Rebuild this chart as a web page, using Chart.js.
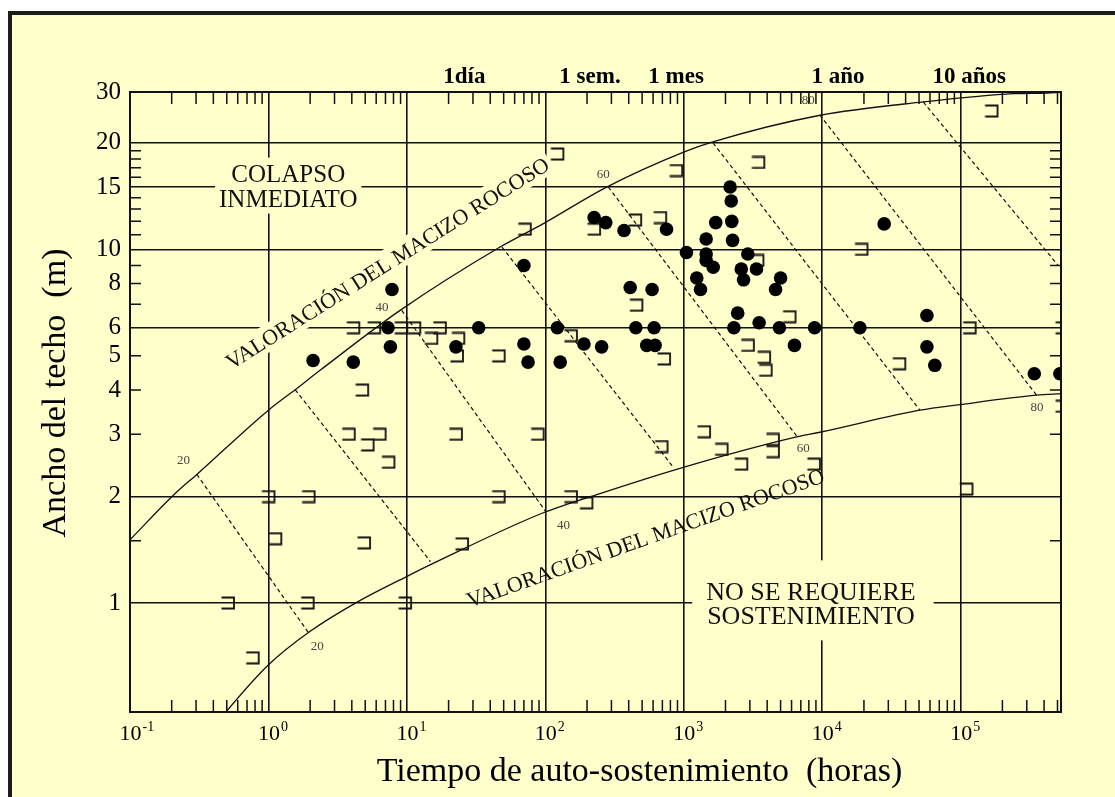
<!DOCTYPE html>
<html><head><meta charset="utf-8">
<script src="https://cdn.jsdelivr.net/npm/chart.js@4.4.1/dist/chart.umd.min.js"></script>
<style>html,body{margin:0;padding:0;background:#fff;}canvas{display:block;}</style>
</head><body>
<canvas id="c" width="1115" height="797"></canvas>
<script>
// ---------- DATA ----------
// Casos con colapso / sin colapso (tiempo en horas, ancho en m)
const circleX = [2.1, 4.1, 7.3, 7.6, 7.8, 22.6, 33, 70, 70, 75, 122, 128, 190, 225, 255, 273, 370, 410, 450, 540, 590, 610, 620, 750, 1045, 1240, 1320, 1450, 1450, 1450, 1630, 1700, 2160, 2200, 2220, 2250, 2300, 2450, 2600, 2700, 2900, 3350, 3500, 4600, 4900, 5000, 6300, 8800, 18700, 28000, 57000, 57000, 65000, 340000, 520000];
const circleY = [4.85, 4.8, 6.0, 5.3, 7.7, 5.3, 6.0, 9.0, 5.4, 4.8, 6.0, 4.8, 5.4, 12.3, 5.3, 11.9, 11.3, 7.8, 6.0, 5.35, 7.7, 6.0, 5.35, 11.4, 9.8, 8.3, 7.7, 10.7, 9.7, 9.3, 8.9, 11.9, 15.0, 13.7, 12.0, 10.6, 6.0, 6.6, 8.8, 8.2, 9.7, 8.8, 6.2, 7.7, 6.0, 8.3, 5.35, 6.0, 6.0, 11.8, 6.5, 5.3, 4.7, 4.45, 4.45];

const bracketX = [0.51, 0.77, 1.0, 1.12, 1.92, 1.95, 3.8, 4.1, 4.75, 4.9, 5.2, 5.8, 6.35, 7.35, 9.1, 9.7, 11.3, 15, 17.3, 22.6, 23.5, 23, 25, 46, 46, 71, 88, 122, 153, 153, 198, 225, 445, 454, 675, 690, 720, 880, 1400, 1875, 2600, 2900, 3400, 3450, 3800, 3900, 4400, 4400, 5800, 8700, 19200, 36000, 110000, 116000, 167000, 540000, 540000];
const bracketY = [1.0, 0.70, 2.0, 1.52, 1.0, 2.0, 3.0, 6.0, 4.0, 1.48, 2.8, 6.0, 3.0, 2.5, 6.0, 1.0, 6.0, 5.6, 6.0, 3.0, 5.6, 5.0, 1.47, 5.0, 2.0, 11.4, 3.0, 18.6, 5.7, 2.0, 1.92, 11.4, 12.1, 6.95, 12.3, 2.77, 4.9, 16.7, 3.05, 2.72, 2.47, 5.35, 9.3, 17.6, 4.95, 4.55, 2.9, 2.68, 6.45, 2.47, 10.0, 4.75, 2.1, 6.0, 24.6, 6.0, 3.6];

// Curvas "Valoración del macizo rocoso"
const upperCurveX = [0.1, 0.212, 0.304, 1.0, 1.56, 2.36, 8.93, 47.1, 96.7, 277, 997, 1598, 9460, 53600, 239000, 417000, 530000];
const upperCurveY = [1.51, 2.04, 2.31, 3.51, 4.01, 4.55, 6.72, 10.15, 11.82, 15.0, 18.84, 20.1, 23.9, 26.1, 27.55, 27.67, 27.8];
const lowerCurveX = [0.49, 0.517, 0.993, 1.967, 4.37, 10.03, 15.2, 96.7, 248, 992, 6530, 9610, 50700, 98600, 353000, 536000];
const lowerCurveY = [0.49, 0.503, 0.667, 0.828, 1.006, 1.19, 1.29, 1.80, 2.04, 2.42, 2.95, 3.04, 3.51, 3.64, 3.87, 3.91];

// Líneas de igual RMR (20 ... 90)
const contourRMR    = [20, 30, 40, 50, 60, 70, 80, 90];
const contourStartX = [0.304, 1.56, 9.18, 48.6, 285, 1625, 9600, 53600];
const contourStartY = [2.31, 4.01, 6.72, 10.15, 15.0, 20.0, 24.0, 26.1];
const contourEndX   = [1.93, 14.8, 101, 840, 6600, 50700, 353000, 506000];
const contourEndY   = [0.828, 1.31, 1.81, 2.42, 2.95, 3.51, 3.87, 9.0];

const contourLabelText = ['20', '20', '40', '40', '60', '60', '80', '80'];
const contourLabelX = [0.243, 2.25, 6.62, 135, 262, 7290, 7930, 356000];
const contourLabelY = [2.52, 0.754, 6.86, 1.66, 16.3, 2.73, 26.3, 3.58];

// Ejes
const xTickExponents = [-1, 0, 1, 2, 3, 4, 5];
const yTickValues = [1, 2, 3, 4, 5, 6, 8, 10, 15, 20, 30];
const yTickLabels = ['1', '2', '3', '4', '5', '6', '8', '10', '15', '20', '30'];
const yGridValues = [1, 2, 6, 10, 15, 20];
const yMinorTicks = [1.5, 3, 4, 5, 7, 8, 9, 11, 12, 13, 14, 16, 17, 18, 19];

const timeLabels = ['1día', '1 sem.', '1 mes', '1 año', '10 años'];
const timeLabelX = [26, 210, 880, 13000, 115000];

const xTitle = 'Tiempo de auto-sostenimiento  (horas)';
const yTitle = 'Ancho del techo  (m)';
const regionTop = ['COLAPSO', 'INMEDIATO'];
const regionBottom = ['NO SE REQUIERE', 'SOSTENIMIENTO'];
const curveText = 'VALORACIÓN DEL MACIZO ROCOSO';

// ---------- STYLE ----------
const SERIF = '"Liberation Serif", "Times New Roman", serif';
const BG = '#FFFFCC';
const INK = '#111111';
const CLEAR = 'rgba(0,0,0,0)';

const bracketImg = (() => {
  const c = document.createElement('canvas'); c.width = 16; c.height = 14;
  const g = c.getContext('2d'); g.strokeStyle = INK; g.lineWidth = 1.8;
  g.beginPath(); g.moveTo(1.5, 1.5); g.lineTo(14, 1.5); g.lineTo(14, 12.5); g.lineTo(1.5, 12.5); g.stroke();
  return c;
})();

const pts = (xs, ys) => xs.map((x, i) => ({x, y: ys[i]}));

const datasets = [
  {data: pts(circleX, circleY), pointStyle: 'circle', pointRadius: 6.8, pointBackgroundColor: '#000', pointBorderWidth: 0, showLine: false, clip: 0},
  {data: pts(bracketX, bracketY), pointStyle: bracketImg, pointRadius: 7, pointBorderWidth: 0, showLine: false, clip: 0},
  {data: pts(upperCurveX, upperCurveY), showLine: true, borderColor: INK, borderWidth: 1.3, pointRadius: 0, cubicInterpolationMode: 'monotone', clip: 0},
  {data: pts(lowerCurveX, lowerCurveY), showLine: true, borderColor: INK, borderWidth: 1.3, pointRadius: 0, cubicInterpolationMode: 'monotone', clip: 0}
];
contourRMR.forEach((r, i) => {
  datasets.push({data: [{x: contourStartX[i], y: contourStartY[i]}, {x: contourEndX[i], y: contourEndY[i]}],
    showLine: true, borderColor: INK, borderWidth: 1.2, borderDash: [4, 3], pointRadius: 0, clip: 0});
});

function textBlock(ctx, lines, cx, cy, font, lineH) {
  ctx.font = font; ctx.fillStyle = INK; ctx.textAlign = 'center'; ctx.textBaseline = 'middle';
  lines.forEach((t, i) => ctx.fillText(t, cx, cy + (i - (lines.length - 1) / 2) * lineH));
}

const artPlugin = {
  id: 'art',
  beforeDraw(chart) {
    const ctx = chart.ctx;
    ctx.save();
    ctx.fillStyle = '#fff'; ctx.fillRect(0, 0, chart.width, chart.height);
    ctx.fillStyle = BG; ctx.fillRect(10, 13, chart.width, chart.height);
    ctx.fillStyle = '#1c1c1c';
    ctx.fillRect(8, 11, chart.width, 4);
    ctx.fillRect(8, 11, 4, chart.height);
    ctx.restore();
  },
  beforeDatasetsDraw(chart) {
    const ctx = chart.ctx, xs = chart.scales.x, ys = chart.scales.y;
    ctx.save();
    // COLAPSO INMEDIATO
    let cx = xs.getPixelForValue(1.39), cy = ys.getPixelForValue(14.95);
    ctx.font = '25px ' + SERIF;
    let w = Math.max(...regionTop.map(t => ctx.measureText(t).width));
    ctx.fillStyle = BG; ctx.fillRect(cx - w / 2 - 4, cy - 30, w + 8, 56);
    textBlock(ctx, regionTop, cx, cy, '25px ' + SERIF, 25);
    // NO SE REQUIERE SOSTENIMIENTO
    cx = xs.getPixelForValue(8280); cy = ys.getPixelForValue(0.985);
    ctx.font = '26px ' + SERIF;
    w = Math.max(...regionBottom.map(t => ctx.measureText(t).width));
    ctx.fillStyle = BG; ctx.fillRect(cx - w / 2 - 14, cy - 45, w + 32, 80);
    textBlock(ctx, regionBottom, cx, cy, '26px ' + SERIF, 24);
    // rotated curve labels
    const rot = (dx, dy, ang, bg) => {
      const px = xs.getPixelForValue(dx), py = ys.getPixelForValue(dy);
      ctx.save(); ctx.translate(px, py); ctx.rotate(ang * Math.PI / 180);
      ctx.font = '22px ' + SERIF;
      const tw = ctx.measureText(curveText).width;
      if (bg) { ctx.fillStyle = BG; ctx.fillRect(-tw / 2 - 3, -15, tw + 6, 26); }
      ctx.fillStyle = INK; ctx.textAlign = 'center'; ctx.textBaseline = 'middle';
      ctx.fillText(curveText, 0, 0);
      ctx.restore();
    };
    rot(7.315, 9.07, -32.25, true);
    rot(533, 1.514, -19.5, false);
    // contour labels
    ctx.font = '13px ' + SERIF; ctx.fillStyle = '#444'; ctx.textAlign = 'center'; ctx.textBaseline = 'middle';
    contourLabelText.forEach((t, i) => ctx.fillText(t, xs.getPixelForValue(contourLabelX[i]), ys.getPixelForValue(contourLabelY[i])));
    ctx.restore();
  },
  afterDatasetsDraw(chart) {
    const ctx = chart.ctx, xs = chart.scales.x, ys = chart.scales.y, a = chart.chartArea;
    ctx.save();
    ctx.strokeStyle = INK; ctx.lineWidth = 1.5;
    ctx.beginPath();
    for (let e = -1; e <= 5; e++) for (let m = 2; m <= 9; m++) {
      const v = m * Math.pow(10, e); if (v >= xs.max) continue;
      const p = xs.getPixelForValue(v);
      ctx.moveTo(p, a.bottom); ctx.lineTo(p, a.bottom - 12);
      ctx.moveTo(p, a.top); ctx.lineTo(p, a.top + 12);
    }
    yMinorTicks.forEach(v => {
      const p = ys.getPixelForValue(v);
      ctx.moveTo(a.left, p); ctx.lineTo(a.left + 11, p);
      ctx.moveTo(a.right, p); ctx.lineTo(a.right - 11, p);
    });
    ctx.stroke();
    ctx.lineWidth = 2; ctx.strokeStyle = INK;
    ctx.strokeRect(a.left, a.top, a.right - a.left, a.bottom - a.top);
    // x tick labels 10^n
    ctx.fillStyle = '#000'; ctx.textBaseline = 'alphabetic'; ctx.textAlign = 'left';
    xTickExponents.forEach(e => {
      const p = xs.getPixelForValue(Math.pow(10, e));
      ctx.font = '22px ' + SERIF;
      ctx.fillText('10', p - 10.5, a.bottom + 28);
      const w = ctx.measureText('10').width;
      ctx.font = '14px ' + SERIF;
      ctx.fillText(e < 0 ? '-' + Math.abs(e) : String(e), p - 10.5 + w + 1, a.bottom + 19);
    });
    // time labels on top
    ctx.font = 'bold 23px ' + SERIF; ctx.textAlign = 'center'; ctx.textBaseline = 'middle';
    timeLabels.forEach((t, i) => ctx.fillText(t, xs.getPixelForValue(timeLabelX[i]), a.top - 15));
    // axis titles
    ctx.font = '34px ' + SERIF; ctx.textAlign = 'center'; ctx.textBaseline = 'alphabetic';
    ctx.fillText(xTitle, (a.left + a.right) / 2 + 44, 781);
    ctx.save(); ctx.translate(56, (a.top + a.bottom) / 2 - 9); ctx.rotate(-Math.PI / 2);
    ctx.textBaseline = 'middle'; ctx.fillText(yTitle, 0, 0); ctx.restore();
    ctx.restore();
  }
};

new Chart(document.getElementById('c'), {
  type: 'scatter',
  data: {datasets},
  options: {
    responsive: false, animation: false, events: [], devicePixelRatio: 1,
    layout: {padding: {left: 0, right: 54, top: 92, bottom: 0}},
    plugins: {legend: {display: false}, tooltip: {enabled: false}},
    scales: {
      x: {
        type: 'logarithmic', min: 0.1, max: 5.3e5,
        afterBuildTicks: s => { s.ticks = xTickExponents.map(e => ({value: Math.pow(10, e)})); },
        afterFit: s => { s.height = 85; },
        ticks: {display: false},
        border: {display: false},
        grid: {drawTicks: false, lineWidth: 1.6, color: c => (c.tick && c.tick.value > 0.15) ? INK : CLEAR}
      },
      y: {
        type: 'logarithmic', min: 0.492, max: 27.85,
        afterBuildTicks: s => { s.ticks = yTickValues.map(v => ({value: Math.min(v, s.max)})); },
        afterFit: s => { s.width = 130; },
        ticks: {autoSkip: false, padding: 9, color: '#000', font: {family: SERIF, size: 25},
          callback: (v, i) => yTickLabels[i]},
        border: {display: false},
        grid: {drawTicks: false, lineWidth: 1.6, color: c => (c.tick && yGridValues.includes(c.tick.value)) ? INK : CLEAR}
      }
    }
  },
  plugins: [artPlugin]
});
</script></body></html>
